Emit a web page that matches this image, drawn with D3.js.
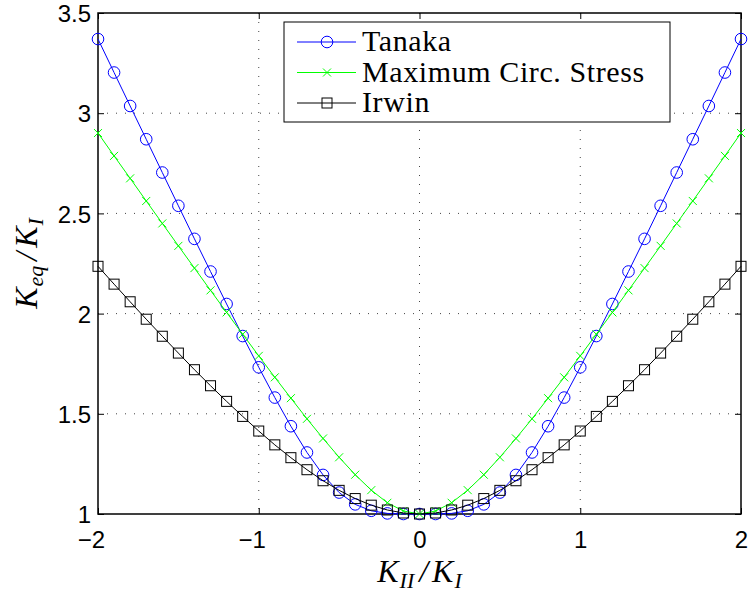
<!DOCTYPE html>
<html>
<head>
<meta charset="utf-8">
<script src="https://cdn.jsdelivr.net/npm/d3@7"></script>
<style>
  body { margin: 0; background: #fff; }
  svg { display: block; }
</style>
</head>
<body>
<div id="chart"></div>
<script>
// K_II/K_I ratio
const ratios = [-2.0, -1.9, -1.8, -1.7, -1.6, -1.5, -1.4, -1.3, -1.2, -1.1, -1.0,
  -0.9, -0.8, -0.7, -0.6, -0.5, -0.4, -0.3, -0.2, -0.1, 0.0,
  0.1, 0.2, 0.3, 0.4, 0.5, 0.6, 0.7, 0.8, 0.9, 1.0,
  1.1, 1.2, 1.3, 1.4, 1.5, 1.6, 1.7, 1.8, 1.9, 2.0]

const tanaka = [3.370, 3.203, 3.036, 2.870, 2.704, 2.538, 2.373, 2.210, 2.048, 1.888, 1.732,
  1.581, 1.438, 1.307, 1.195, 1.107, 1.048, 1.016, 1.003, 1.000, 1.000,
  1.000, 1.003, 1.016, 1.048, 1.107, 1.195, 1.307, 1.438, 1.581, 1.732,
  1.888, 2.048, 2.210, 2.373, 2.538, 2.704, 2.870, 3.036, 3.203, 3.370]

const maxCircStress = [2.901, 2.787, 2.675, 2.562, 2.450, 2.338, 2.227, 2.116, 2.006, 1.897, 1.789,
  1.682, 1.578, 1.475, 1.377, 1.283, 1.196, 1.119, 1.056, 1.015, 1.000,
  1.015, 1.056, 1.119, 1.196, 1.283, 1.377, 1.475, 1.578, 1.682, 1.789,
  1.897, 2.006, 2.116, 2.227, 2.338, 2.450, 2.562, 2.675, 2.787, 2.901]

const irwin = [2.236, 2.147, 2.059, 1.972, 1.887, 1.803, 1.720, 1.640, 1.562, 1.487, 1.414,
  1.345, 1.281, 1.221, 1.166, 1.118, 1.077, 1.044, 1.020, 1.005, 1.000,
  1.005, 1.020, 1.044, 1.077, 1.118, 1.166, 1.221, 1.281, 1.345, 1.414,
  1.487, 1.562, 1.640, 1.720, 1.803, 1.887, 1.972, 2.059, 2.147, 2.236]

const xTicks = [-2, -1, 0, 1, 2]
const yTicks = [1, 1.5, 2, 2.5, 3, 3.5]
const seriesNames = ["Tanaka", "Maximum Circ. Stress", "Irwin"]

const sansFont = "'Liberation Sans', Arial, sans-serif"
const serifFont = "'Liberation Serif', 'Times New Roman', serif"

let width = 748, height = 592
let margin = { top: 13, right: 7, bottom: 78, left: 98 }
let w = width - margin.left - margin.right
let h = height - margin.top - margin.bottom

let svg = d3.select("#chart").append("svg")
  .attr("width", width)
  .attr("height", height)

let x = d3.scaleLinear().domain([-2, 2]).range([0, w])
let y = d3.scaleLinear().domain([1, 3.5]).range([h, 0])

let g = svg.append("g")
  .attr("transform", `translate(${margin.left}, ${margin.top})`)

// grid (dotted)
g.append("g").selectAll("line")
  .data(xTicks.slice(1, -1))
  .enter().append("line")
  .attr("x1", d => x(d)).attr("x2", d => x(d))
  .attr("y1", 0).attr("y2", h)
  .attr("stroke", "#444").attr("stroke-width", 1)
  .attr("stroke-dasharray", "1,8")
g.append("g").selectAll("line")
  .data(yTicks.slice(1, -1))
  .enter().append("line")
  .attr("y1", d => y(d)).attr("y2", d => y(d))
  .attr("x1", 0).attr("x2", w)
  .attr("stroke", "#444").attr("stroke-width", 1)
  .attr("stroke-dasharray", "1,8")

// axes, ticks inward on all 4 sides
let tickLen = 6
let xAxisB = d3.axisBottom(x).tickValues(xTicks).tickSizeInner(-tickLen).tickSizeOuter(0)
  .tickFormat(d => d < 0 ? "\u2212" + Math.abs(d) : d)
let xAxisT = d3.axisTop(x).tickValues(xTicks).tickSizeInner(-tickLen).tickSizeOuter(0).tickFormat("")
let yAxisL = d3.axisLeft(y).tickValues(yTicks).tickSizeInner(-tickLen).tickSizeOuter(0)
  .tickFormat(d3.format("~g"))
let yAxisR = d3.axisRight(y).tickValues(yTicks).tickSizeInner(-tickLen).tickSizeOuter(0).tickFormat("")

let gx = g.append("g").attr("transform", `translate(0, ${h})`).call(xAxisB)
g.append("g").call(xAxisT)
let gy = g.append("g").call(yAxisL)
g.append("g").attr("transform", `translate(${w}, 0)`).call(yAxisR)

g.selectAll(".domain").attr("stroke", "none")
g.selectAll(".tick line").attr("stroke", "#000").attr("stroke-width", 1)

gx.selectAll("text")
  .style("font-family", sansFont)
  .style("font-size", "24px").attr("fill", "#000")
  .attr("y", 34).attr("dy", 0)
  .attr("dx", d => d < 0 ? -7 : 0)
gy.selectAll("text")
  .style("font-family", sansFont)
  .style("font-size", "24px").attr("fill", "#000")
  .attr("x", -7).attr("dy", "0.36em")

// box
g.append("rect")
  .attr("x", 0).attr("y", 0).attr("width", w).attr("height", h)
  .attr("fill", "none").attr("stroke", "#000").attr("stroke-width", 1.5)

let line = d3.line().x((d, i) => x(ratios[i])).y(d => y(d))

const series = [
  { name: seriesNames[0], values: tanaka, color: "#0000ff", marker: "circle" },
  { name: seriesNames[1], values: maxCircStress, color: "#00ff00", marker: "cross" },
  { name: seriesNames[2], values: irwin, color: "#000000", marker: "square" }
]

function drawMarker(sel, type, color) {
  if (type == "circle") {
    sel.append("circle").attr("r", 5.8)
      .attr("fill", "none").attr("stroke", color).attr("stroke-width", 1)
  } else if (type == "square") {
    sel.append("rect").attr("x", -5).attr("y", -5).attr("width", 10).attr("height", 10)
      .attr("fill", "none").attr("stroke", color).attr("stroke-width", 1)
  } else {
    sel.append("path").attr("d", "M-4,-4L4,4M-4,4L4,-4")
      .attr("fill", "none").attr("stroke", color).attr("stroke-width", 1)
  }
}

series.forEach(s => {
  g.append("path")
    .datum(s.values)
    .attr("d", line)
    .attr("fill", "none")
    .attr("stroke", s.color)
    .attr("stroke-width", 1)

  let m = g.append("g").selectAll("g")
    .data(s.values)
    .enter().append("g")
    .attr("transform", (d, i) => `translate(${x(ratios[i])}, ${y(d)})`)
  drawMarker(m, s.marker, s.color)
})

// legend
let legend = svg.append("g").attr("transform", "translate(284, 22)")
legend.append("rect")
  .attr("width", 386).attr("height", 100)
  .attr("fill", "#fff").attr("stroke", "#000").attr("stroke-width", 1)

let items = legend.selectAll(".legend")
  .data(series)
  .enter().append("g")
  .attr("class", "legend")
  .attr("transform", (d, i) => `translate(0, ${20 + i * 30.5})`)

items.append("line")
  .attr("x1", 13).attr("x2", 72)
  .attr("stroke", d => d.color).attr("stroke-width", 1)
items.each(function(d) {
  drawMarker(d3.select(this).append("g").attr("transform", "translate(43, 0)"), d.marker, d.color)
})
items.append("text")
  .attr("x", 78).attr("y", 9)
  .style("font-family", serifFont)
  .style("font-size", "30px")
  .style("letter-spacing", "0.6px")
  .text(d => d.name)

// axis labels
function mathLabel(t, main, sub, main2, sub2) {
  t.style("font-family", serifFont)
    .style("font-style", "italic").style("font-size", "32px").attr("fill", "#000")
  t.append("tspan").text(main)
  t.append("tspan").style("font-size", "22px").attr("dy", 6).attr("dx", 1).text(sub)
  t.append("tspan").attr("dy", -6).attr("dx", 5).text("/")
  t.append("tspan").attr("dx", 4).text(main2)
  t.append("tspan").style("font-size", "22px").attr("dy", 6).attr("dx", 1).text(sub2)
}

let xl = svg.append("text")
  .attr("x", margin.left + w / 2).attr("y", 582)
  .attr("text-anchor", "middle")
mathLabel(xl, "K", "II", "K", "I")

let yl = svg.append("text")
  .attr("transform", `translate(37, ${margin.top + h / 2}) rotate(-90)`)
  .attr("text-anchor", "middle")
mathLabel(yl, "K", "eq", "K", "I")
</script>
</body>
</html>
